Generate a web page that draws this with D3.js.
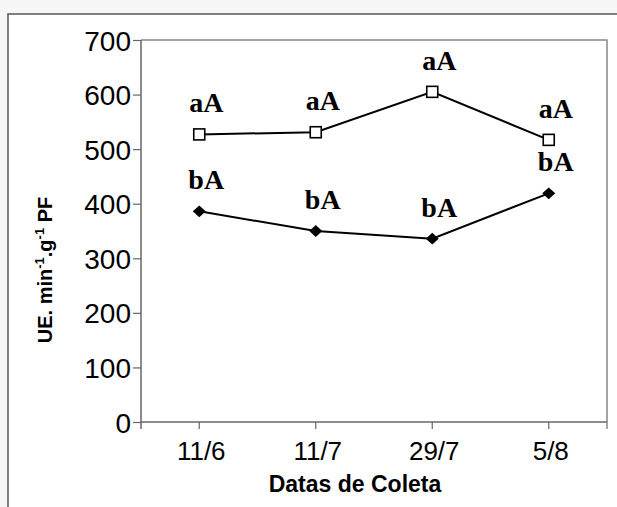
<!DOCTYPE html>
<html><head><meta charset="utf-8">
<script src="https://cdn.jsdelivr.net/npm/d3@7"></script>
<style>
html,body{margin:0;padding:0;background:#f6f6f6;}
svg{display:block;}
</style></head>
<body>
<script>
const categories = ["11/6", "11/7", "29/7", "5/8"];
const seriesOpen = [527, 531, 605, 517];
const seriesFilled = [386, 350, 336, 419];
const labelsOpen = ["aA", "aA", "aA", "aA"];
const labelsFilled = ["bA", "bA", "bA", "bA"];
const yTicks = [0, 100, 200, 300, 400, 500, 600, 700];

(function () {
const W = 617, H = 507;
const svg = d3.select("body").append("svg").attr("width", W).attr("height", H);

// outer frame
svg.append("rect").attr("x", 8).attr("y", 14).attr("width", W + 10).attr("height", H + 10)
  .attr("fill", "#fff").attr("stroke", "#555").attr("stroke-width", 1.5);

const mLeft = 141, mRight = 607, mTop = 40, mBottom = 422;
const x = d3.scaleBand().domain(categories).range([mLeft, mRight]);
const y = d3.scaleLinear().domain([0, 700]).range([mBottom, mTop]);

// plot box top/right
svg.append("path").attr("d", `M${mLeft},${mTop}H${mRight}V${mBottom + 7}`)
  .attr("fill", "none").attr("stroke", "#888").attr("stroke-width", 1.5);

// y axis
const yAxis = svg.append("g").attr("transform", `translate(${mLeft},0)`)
  .call(d3.axisLeft(y).tickValues(yTicks).tickSize(8).tickSizeOuter(0));
yAxis.select(".domain").attr("stroke", "#666").attr("stroke-width", 1.5)
  .attr("d", `M0,${mTop}V${mBottom + 7}`);
yAxis.selectAll(".tick line").attr("stroke", "#666").attr("stroke-width", 1.2);
yAxis.selectAll(".tick text").attr("font-family", "Liberation Sans, Arial, sans-serif")
  .attr("font-size", 28).attr("fill", "#000").attr("x", -10).attr("dy", "0.36em");

// x axis
const cx = d => x(d) + x.bandwidth() / 2;
const xAxis = svg.append("g").attr("transform", `translate(0,${mBottom})`);
xAxis.append("line").attr("x1", mLeft).attr("x2", mRight).attr("stroke", "#666").attr("stroke-width", 1.5);
xAxis.selectAll(".xt").data(categories).join("line").attr("class", "xt")
  .attr("x1", d => cx(d)).attr("x2", d => cx(d)).attr("y1", 0).attr("y2", 7)
  .attr("stroke", "#666").attr("stroke-width", 1.2);
xAxis.selectAll(".xl").data(categories).join("text").attr("class", "xl")
  .attr("x", d => cx(d) + 2).attr("y", 38).attr("text-anchor", "middle")
  .attr("font-family", "Liberation Sans, Arial, sans-serif").attr("font-size", 26)
  .text(d => d);

// axis titles
svg.append("text").attr("x", 355).attr("y", 492).attr("text-anchor", "middle")
  .attr("font-family", "Liberation Sans, Arial, sans-serif").attr("font-size", 23).attr("font-weight", "bold")
  .text("Datas de Coleta");

const yt = svg.append("text").attr("transform", "translate(52,270) rotate(-90)").attr("text-anchor", "middle")
  .attr("font-family", "Liberation Sans, Arial, sans-serif").attr("font-size", 20).attr("font-weight", "bold");
yt.append("tspan").text("UE. min");
yt.append("tspan").attr("font-size", 13).attr("dy", -8).text("-1");
yt.append("tspan").attr("dy", 8).text(".g");
yt.append("tspan").attr("font-size", 13).attr("dy", -8).text("-1");
yt.append("tspan").attr("dy", 8).text(" PF");

const line = d3.line().x((d, i) => cx(categories[i])).y(d => y(d));

// filled diamond series
svg.append("path").datum(seriesFilled).attr("d", line).attr("fill", "none").attr("stroke", "#000").attr("stroke-width", 2);
svg.selectAll(".dia").data(seriesFilled).join("path").attr("class", "dia")
  .attr("d", d3.symbol(d3.symbolSquare, 84))
  .attr("transform", (d, i) => `translate(${cx(categories[i])},${y(d)}) scale(1,0.92) rotate(45)`)
  .attr("fill", "#000");

// open square series
svg.append("path").datum(seriesOpen).attr("d", line).attr("fill", "none").attr("stroke", "#000").attr("stroke-width", 2);
svg.selectAll(".sq").data(seriesOpen).join("rect").attr("class", "sq")
  .attr("x", (d, i) => cx(categories[i]) - 5.5).attr("y", d => y(d) - 5.5)
  .attr("width", 11).attr("height", 11).attr("fill", "#fff").attr("stroke", "#000").attr("stroke-width", 1.6);

// letters
const lab = (vals, labels) => svg.append("g").selectAll("text").data(vals).join("text")
  .attr("x", (d, i) => cx(categories[i]) + 7).attr("y", d => y(d) - 22)
  .attr("text-anchor", "middle").attr("font-family", "Liberation Serif, Times New Roman, serif")
  .attr("font-size", 28).attr("font-weight", "bold").text((d, i) => labels[i]);
lab(seriesOpen, labelsOpen);
lab(seriesFilled, labelsFilled);
})();
</script>
</body></html>
